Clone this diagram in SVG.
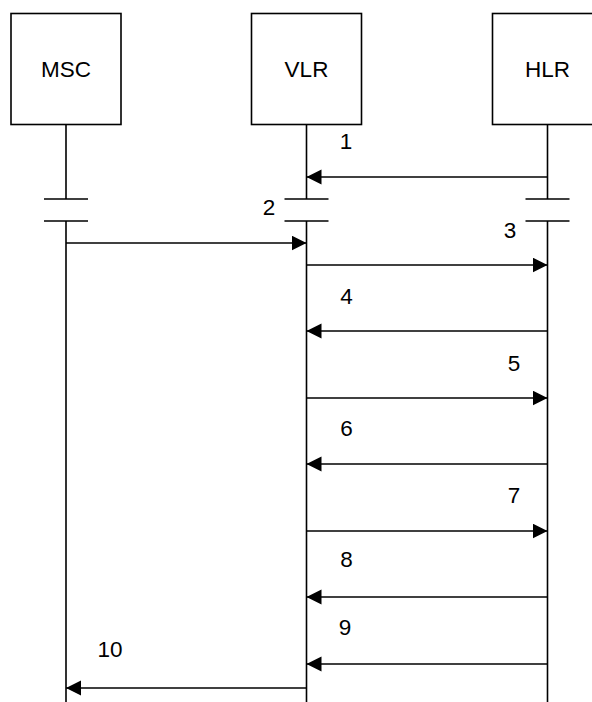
<svg xmlns="http://www.w3.org/2000/svg" width="592" height="702" viewBox="0 0 592 702">
<style>
.box{fill:#fff;stroke:#000;stroke-width:1.6}
.ll{stroke:#000;stroke-width:1.6;fill:none}
.msg{stroke:#000;stroke-width:1.6;fill:none;marker-end:url(#ah)}
text{font-family:"Liberation Sans",Arial,sans-serif;font-size:22.5px;fill:#000;text-anchor:middle}
</style>
<defs>
<marker id="ah" markerWidth="16" markerHeight="16" refX="15" refY="7.5" orient="auto" markerUnits="userSpaceOnUse"><path d="M0,0 L15,7.5 L0,15 z" fill="#000"/></marker>
</defs>
<g id="msc">
<rect class="box" x="11" y="13.5" width="110" height="111"/>
<text x="66" y="77">MSC</text>
<path class="ll" d="M66,124.5 V199 M66,221 V702 M44,199 H88 M44,221 H88"/>
</g>
<g id="vlr">
<rect class="box" x="251.5" y="13.5" width="110" height="111"/>
<text x="306.5" y="77">VLR</text>
<path class="ll" d="M306.5,124.5 V199 M306.5,221 V702 M284.5,199 H328.5 M284.5,221 H328.5"/>
</g>
<g id="hlr">
<rect class="box" x="492.5" y="13.5" width="110" height="111"/>
<text x="547.5" y="77">HLR</text>
<path class="ll" d="M547.5,124.5 V199 M547.5,221 V702 M525.5,199 H569.5 M525.5,221 H569.5"/>
</g>
<g id="connectors">
<line class="msg" x1="547.5" y1="177" x2="306.5" y2="177"/>
<line class="msg" x1="66" y1="243" x2="306.5" y2="243"/>
<line class="msg" x1="306.5" y1="265" x2="547.5" y2="265"/>
<line class="msg" x1="547.5" y1="331" x2="306.5" y2="331"/>
<line class="msg" x1="306.5" y1="398" x2="547.5" y2="398"/>
<line class="msg" x1="547.5" y1="464" x2="306.5" y2="464"/>
<line class="msg" x1="306.5" y1="531" x2="547.5" y2="531"/>
<line class="msg" x1="547.5" y1="597" x2="306.5" y2="597"/>
<line class="msg" x1="547.5" y1="664" x2="306.5" y2="664"/>
<line class="msg" x1="306.5" y1="688" x2="66" y2="688"/>
</g>
<g id="labels">
<text x="346" y="149">1</text>
<text x="269" y="215">2</text>
<text x="510" y="238">3</text>
<text x="346.5" y="304">4</text>
<text x="514" y="371">5</text>
<text x="346.5" y="436">6</text>
<text x="514" y="503">7</text>
<text x="346.5" y="567">8</text>
<text x="345" y="635">9</text>
<text x="110" y="657">10</text>
</g>
</svg>
